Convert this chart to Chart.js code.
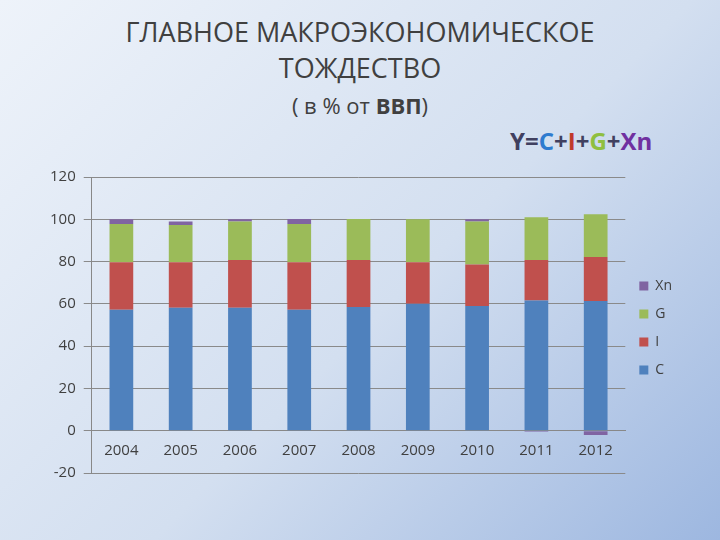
<!DOCTYPE html><html><head><meta charset="utf-8">
<script src="https://cdn.jsdelivr.net/npm/chart.js@4"></script>
<style>
html,body{margin:0;padding:0;width:720px;height:540px;overflow:hidden;font-family:"Open Sans","DejaVu Sans",sans-serif;}
body{background:linear-gradient(135deg,#eef3fa 0%,#d3dff0 55%,#9db7e0 100%);position:relative;}
#t{position:absolute;left:0;width:720px;text-align:center;top:14px;color:#404040;font-size:27px;line-height:36px;}
#s{position:absolute;left:0;width:720px;text-align:center;top:90px;color:#404040;font-size:22px;}
#f{position:absolute;left:510px;top:124px;font-size:24px;font-weight:bold;color:#404060;}
#c{position:absolute;left:42px;top:160px;}
</style></head><body>
<div id="t">ГЛАВНОЕ МАКРОЭКОНОМИЧЕСКОЕ<br>ТОЖДЕСТВО</div>
<div id="s">( в % от <b>ВВП</b>)</div>
<div id="f">Y=<span style="color:#2e7bcf">C</span>+<span style="color:#c0392b">I</span>+<span style="color:#8fbf40">G</span>+<span style="color:#7030a0">Xn</span></div>
<canvas id="c" width="640" height="330"></canvas>
<script>
const years=["2004","2005","2006","2007","2008","2009","2010","2011","2012"];
const C=[57.2,58.2,58.2,57.2,58.5,60,59,61.6,61.3];
const I=[22.5,21.5,22.6,22.5,22.3,19.7,19.6,19.2,20.9];
const G=[18.1,17.6,18.2,18.1,19.3,20.3,20.4,20.2,20.2];
const Xn=[2.2,1.7,1,2.3,0,0,1,-0.5,-2];
const ticks=[-20,0,20,40,60,80,100,120];
new Chart(document.getElementById('c'),{type:'bar',
data:{labels:years,datasets:[
{label:'C',data:C,backgroundColor:'#4f81bd'},
{label:'I',data:I,backgroundColor:'#c0504d'},
{label:'G',data:G,backgroundColor:'#9bbb59'},
{label:'Xn',data:Xn,backgroundColor:'#8064a2'}]},
options:{responsive:false,animation:false,
layout:{padding:{top:6,right:0}},
datasets:{bar:{categoryPercentage:0.8,barPercentage:0.5}},
plugins:{legend:{position:'right',reverse:true,labels:{boxWidth:9,boxHeight:9,color:'#404040',font:{size:14,family:'Open Sans'},padding:14}},tooltip:{enabled:false}},
scales:{x:{stacked:true,position:{y:0},grid:{display:false},border:{color:'#888'},ticks:{color:'#404040',font:{size:15,family:'Open Sans'}}},
y:{stacked:true,min:-20,max:120,afterBuildTicks:a=>{a.ticks=ticks.map(v=>({value:v}));},grid:{color:'#8a8a8a',drawTicks:true},border:{color:'#888'},ticks:{color:'#404040',font:{size:15,family:'Open Sans'},padding:8}}}}});
</script></body></html>
